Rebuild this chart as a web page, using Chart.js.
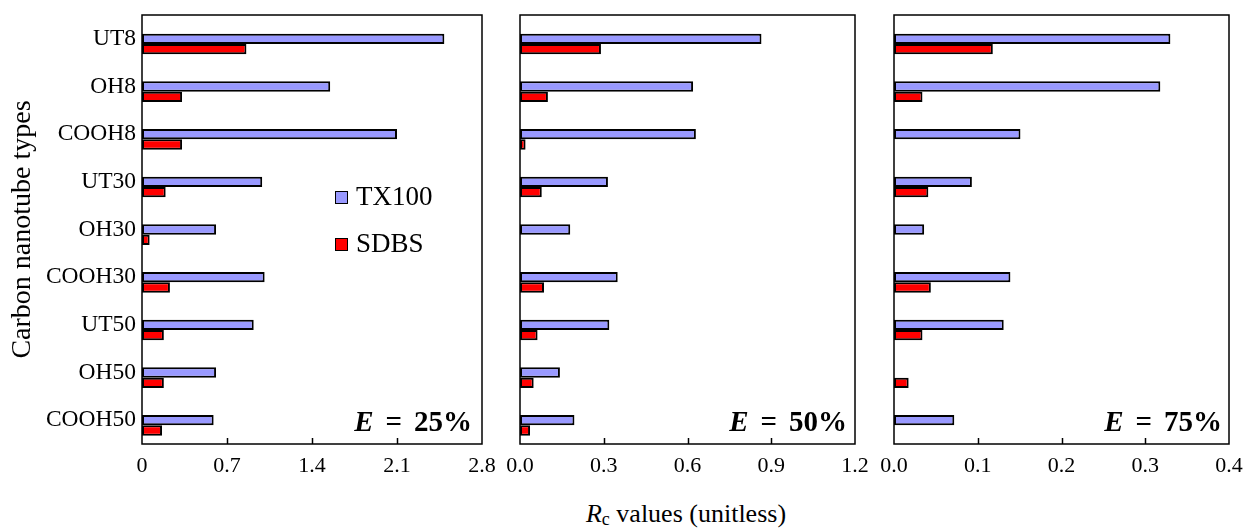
<!DOCTYPE html>
<html lang="en">
<head>
  <meta charset="UTF-8" />
  <title>Rc values by nanotube type</title>
  <script src="https://cdn.jsdelivr.net/npm/chart.js"></script>
  <style>
    body {
      margin: 0;
      background: #fff;
      width: 1249px;
      height: 529px;
      position: relative;
      overflow: hidden;
      font-family: 'Liberation Serif', 'Times New Roman', serif;
      color: #000;
    }
    .panel { position: absolute; top: 0; height: 480px; }
    .legend {
      position: absolute;
      left: 335px;
      font-size: 27px;
      line-height: 27px;
      white-space: nowrap;
    }
    .legend .box {
      display: inline-block;
      width: 11px;
      height: 11px;
      border: 1.5px solid #000;
      margin-right: 8px;
      vertical-align: 1px;
    }
    .note {
      position: absolute;
      top: 407px;
      font-size: 29px;
      line-height: 29px;
      font-weight: bold;
      white-space: nowrap;
      transform: translateX(-100%);
    }
    .note .eq { margin: 0 12px; }
    .xtitle {
      position: absolute;
      top: 501px;
      left: 686px;
      transform: translateX(-50%);
      font-size: 26px;
      line-height: 26px;
      white-space: nowrap;
    }
    .xtitle sub { font-size: 18px; vertical-align: -3px; line-height: 0; }
  </style>
</head>
<body>
  <div class="panel" style="left:0px;width:498px"><canvas id="c25" width="498" height="480"></canvas></div>
  <div class="panel" style="left:504px;width:367px"><canvas id="c50" width="367" height="480"></canvas></div>
  <div class="panel" style="left:878px;width:367px"><canvas id="c75" width="367" height="480"></canvas></div>

  <div class="legend" style="top:183px"><span class="box" style="background:#9999ff"></span>TX100</div>
  <div class="legend" style="top:230px"><span class="box" style="background:#ff0000"></span>SDBS</div>

  <div class="note" style="left:472px"><i>E</i><span class="eq">=</span>25%</div>
  <div class="note" style="left:847px"><i>E</i><span class="eq">=</span>50%</div>
  <div class="note" style="left:1222px"><i>E</i><span class="eq">=</span>75%</div>

  <div class="xtitle"><i>R</i><sub>c</sub> values (unitless)</div>

  <script>
    const categories = ['UT8', 'OH8', 'COOH8', 'UT30', 'OH30', 'COOH30', 'UT50', 'OH50', 'COOH50'];

    // E = 25%
    const tx25   = [2.49, 1.55, 2.10, 0.99, 0.61, 1.01, 0.92, 0.61, 0.59];
    const sdbs25 = [0.86, 0.33, 0.33, 0.195, 0.063, 0.23, 0.18, 0.18, 0.165];
    // E = 50%
    const tx50   = [0.865, 0.62, 0.63, 0.315, 0.18, 0.35, 0.32, 0.143, 0.195];
    const sdbs50 = [0.29, 0.10, 0.02, 0.078, null, 0.086, 0.063, 0.049, 0.036];
    // E = 75%
    const tx75   = [0.33, 0.318, 0.151, 0.093, 0.036, 0.139, 0.131, null, 0.072];
    const sdbs75 = [0.118, 0.034, null, 0.041, null, 0.044, 0.034, 0.0175, null];

    const ticks25 = [0, 0.7, 1.4, 2.1, 2.8];
    const labels25 = ['0', '0.7', '1.4', '2.1', '2.8'];
    const ticks50 = [0, 0.3, 0.6, 0.9, 1.2];
    const labels50 = ['0.0', '0.3', '0.6', '0.9', '1.2'];
    const ticks75 = [0, 0.1, 0.2, 0.3, 0.4];
    const labels75 = ['0.0', '0.1', '0.2', '0.3', '0.4'];

    Chart.defaults.font.family = "'Liberation Serif', 'Times New Roman', serif";
    Chart.defaults.color = '#000';

    // box round the plot area and short inward tick marks on the value axis
    const framePlugin = {
      id: 'frame',
      afterDatasetsDraw(chart) {
        const { ctx, chartArea: a, scales: { x } } = chart;
        ctx.save();
        ctx.strokeStyle = '#000';
        ctx.lineWidth = 1.5;
        ctx.strokeRect(a.left, a.top, a.right - a.left, a.bottom - a.top);
        x.ticks.slice(1, -1).forEach(t => {
          const px = Math.round(x.getPixelForValue(t.value)) + 0.5;
          ctx.beginPath();
          ctx.moveTo(px, a.bottom);
          ctx.lineTo(px, a.bottom - 6);
          ctx.stroke();
        });
        ctx.restore();
      }
    };

    // keep the plot box where it is: labels may hang past it
    function noPad(s) {
      s.paddingLeft = s.paddingRight = s.paddingTop = s.paddingBottom = 0;
    }

    function createChart(id, tx, sdbs, tickVals, tickLabels, withAxis) {
      const bar = { borderColor: '#000', borderWidth: 2, borderSkipped: false,
                    categoryPercentage: 0.65, barPercentage: 1.0 };
      return new Chart(document.getElementById(id), {
        type: 'bar',
        data: {
          labels: categories,
          datasets: [
            // empty slot above each pair, as in the original spreadsheet chart
            { ...bar, label: '', data: [], backgroundColor: 'rgba(0,0,0,0)', borderWidth: 0 },
            { ...bar, label: 'TX100', data: tx, backgroundColor: '#9999ff' },
            { ...bar, label: 'SDBS', data: sdbs, backgroundColor: '#ff0000' }
          ]
        },
        options: {
          indexAxis: 'y',
          responsive: false,
          animation: false,
          events: [],
          layout: { padding: { top: 15, bottom: 0, left: withAxis ? 0 : 16, right: 16 } },
          plugins: { legend: { display: false }, tooltip: { enabled: false } },
          scales: {
            x: {
              min: tickVals[0],
              max: tickVals[tickVals.length - 1],
              grid: { display: false, drawTicks: false },
              border: { display: false },
              afterBuildTicks: s => { s.ticks = tickVals.map(v => ({ value: v })); },
              afterFit: s => { s.height = 36; noPad(s); },
              ticks: {
                autoSkip: false,
                maxRotation: 0,
                padding: 9,
                font: { size: 22 },
                callback: (v, i) => tickLabels[i]
              }
            },
            y: {
              display: withAxis,
              grid: { display: false, drawTicks: false },
              border: { display: false },
              afterFit: s => { if (withAxis) s.width = 142; noPad(s); },
              ticks: { padding: 6, font: { size: 23.5 } },
              title: {
                display: withAxis,
                text: 'Carbon nanotube types',
                font: { size: 28 },
                padding: { top: 6, bottom: 0 }
              }
            }
          }
        },
        plugins: [framePlugin]
      });
    }

    createChart('c25', tx25, sdbs25, ticks25, labels25, true);
    createChart('c50', tx50, sdbs50, ticks50, labels50, false);
    createChart('c75', tx75, sdbs75, ticks75, labels75, false);
  </script>
</body>
</html>
